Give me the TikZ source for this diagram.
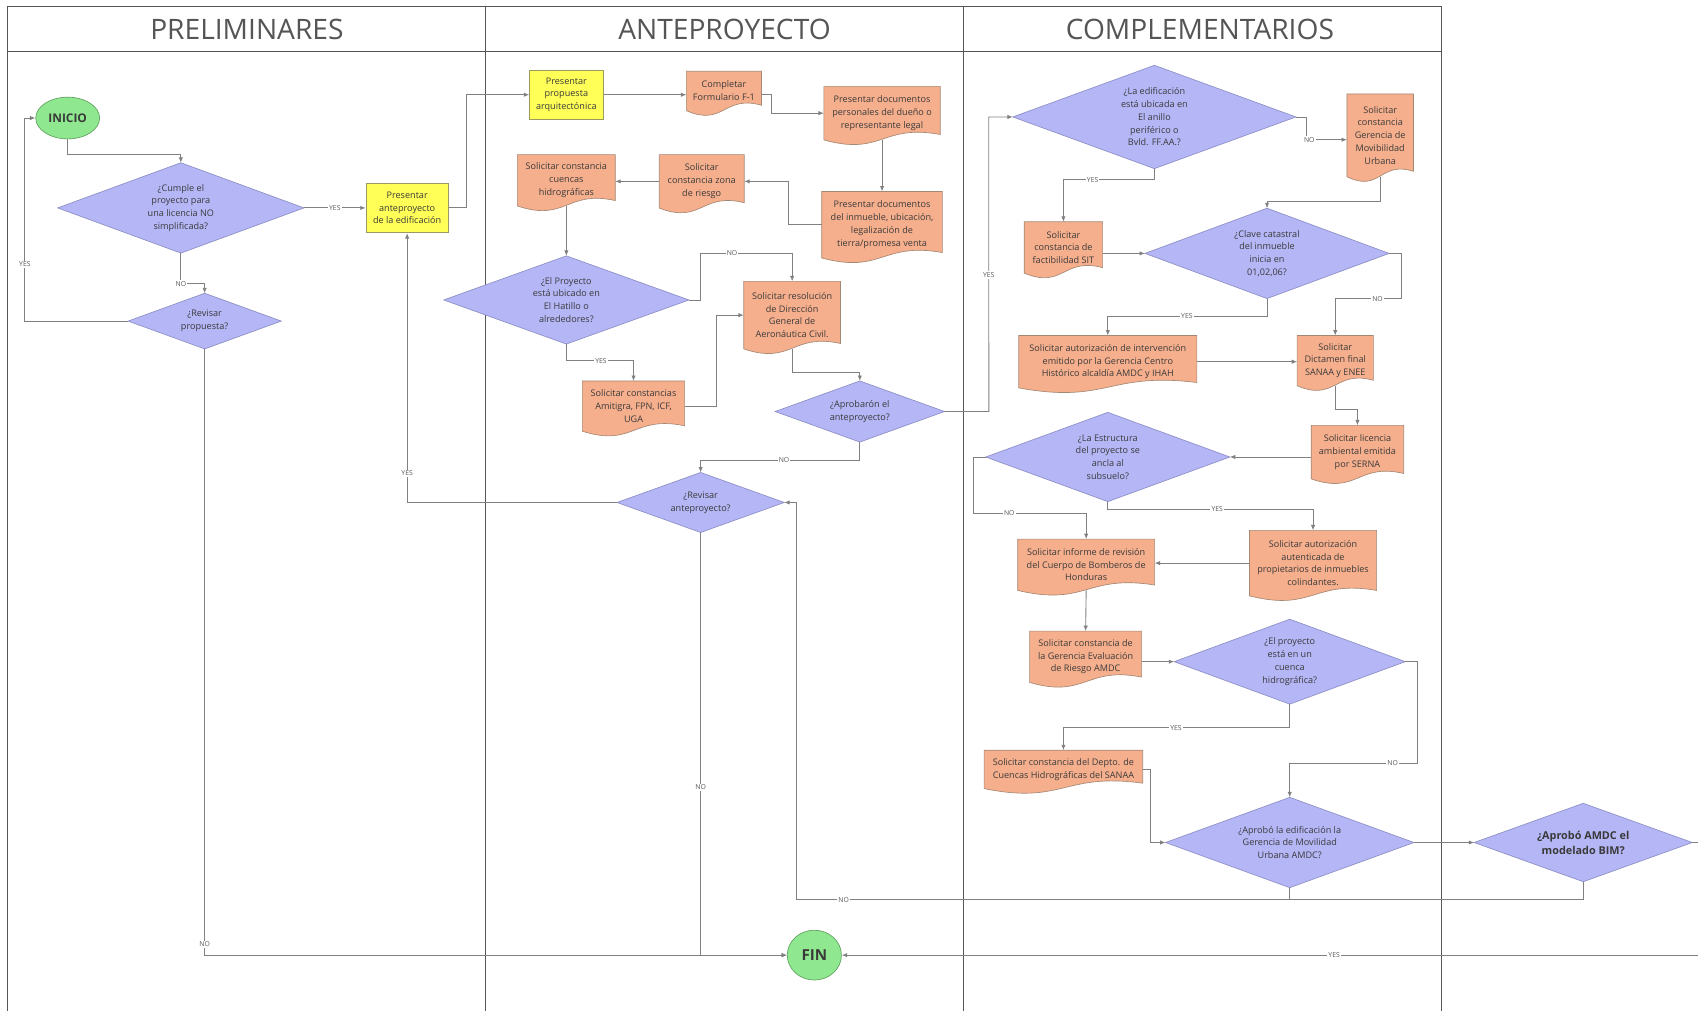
\documentclass[tikz,border=0pt]{standalone}
\usepackage{fontspec}
\setmainfont{Open Sans}
\usetikzlibrary{arrows.meta,calc,shapes.geometric}

\definecolor{lineC}{HTML}{808080}
\definecolor{diaC}{HTML}{B4B6F6}
\definecolor{diaB}{HTML}{8C8EC4}
\definecolor{docC}{HTML}{F6AF8D}
\definecolor{docB}{HTML}{A58874}
\definecolor{yelC}{HTML}{FFFF57}
\definecolor{yelB}{HTML}{9A9A60}
\definecolor{grnC}{HTML}{8FE88F}
\definecolor{grnB}{HTML}{5F9F5F}
\definecolor{txtC}{HTML}{3A3A3A}
\definecolor{poolC}{HTML}{555555}

\pgfdeclarelayer{lanes}
\pgfdeclarelayer{shapes}
\pgfsetlayers{lanes,shapes,main}

\tikzset{
  boxtext/.style={font=\fontsize{8.4}{11.8}\selectfont, text=txtC, align=center, inner sep=0pt},
  decision/.style={boxtext, rectangle},
  docbox/.style={boxtext, rectangle},
  procbox/.style={boxtext, rectangle, draw=yelB, fill=yelC, line width=0.6pt},
  termnode/.style={ellipse, draw=grnB, fill=grnC, line width=0.6pt, inner sep=0pt, text=txtC},
  diafill/.style={fill=diaC, draw=diaB, line width=0.6pt},
  docfill/.style={fill=docC, draw=docB, line width=0.6pt},
  conn/.style={draw=lineC, line width=0.8pt, -{Latex[length=5pt,width=4pt]}},
  joinline/.style={draw=lineC, line width=0.8pt},
  flowtag/.style={font=\fontsize{6.3}{7}\selectfont, text=black!65, fill=white, inner sep=1pt},
  lanetitle/.style={font=\fontsize{26}{30}\selectfont, text=poolC},
  poolline/.style={draw=poolC, line width=0.9pt},
}

% decision: name, centre, width, height, text
\newcommand\decisionnode[5]{\node[decision, minimum width=#3pt, minimum height=#4pt] (#1) at (#2) {#5};}
% document: name, left, right, top, bottom of the straight sides, text
\newcommand\docnode[6]{\node[docbox, minimum width={#3-#2}, minimum height={#5-#4}] (#1) at ({(#2+#3)/2},{(#4+#5)/2}) {#6};}
% outlines drawn behind the texts
\newcommand\diashape[1]{\path[diafill] (#1.north) -- (#1.east) -- (#1.south) -- (#1.west) -- cycle;}
\newcommand\docshape[1]{\path[docfill] (#1.south west) -- (#1.north west) -- (#1.north east) -- ($(#1.south east)+(0,-5)$) .. controls ($(#1.south)+(0,-15)$) and ($(#1.south)+(0,15)$) .. (#1.south west) -- cycle;}

\begin{document}
\begin{tikzpicture}[x=1pt,y=-1pt]
\useasboundingbox (0,0) rectangle (1568,933);

% pool and lanes
\begin{pgfonlayer}{lanes}
\fill[white] (0,0) rectangle (1568,933);
\draw[poolline] (7,960) -- (7,6) -- (1331,6) -- (1331,960);
\draw[poolline] (7,48) -- (1331,48);
\draw[poolline] (448,6) -- (448,960);
\draw[poolline] (890,6) -- (890,960);
\end{pgfonlayer}
\node[lanetitle] (hPre) at (228,27) {PRELIMINARES};
\node[lanetitle] (hAnte) at (669,27) {ANTEPROYECTO};
\node[lanetitle] (hComp) at (1108,27) {COMPLEMENTARIOS};

% ---- Preliminares
\node[termnode, minimum width=59pt, minimum height=38.5pt, font=\bfseries\fontsize{11}{13}\selectfont] (inicio) at (62.5,109) {INICIO};
\decisionnode{d1}{167,192}{227}{83}{¿Cumple el\\proyecto para\\una licencia NO\\simplificada?}
\decisionnode{d2}{189,296.5}{141}{51}{¿Revisar\\propuesta?}
\node[procbox, minimum width=76pt, minimum height=46pt] (p1) at (376,192) {Presentar\\anteproyecto\\de la edificación};

% ---- Anteproyecto
\node[procbox, minimum width=68pt, minimum height=45pt] (prop) at (523,87.5) {Presentar\\propuesta\\arquitectónica};
\docnode{f1}{634}{703}{66}{102}{Completar\\Formulario F-1}
\docnode{pers}{761}{868}{80}{129}{Presentar documentos\\personales del dueño o\\representante legal}
\docnode{inm}{759}{870}{177}{238}{Presentar documentos\\del inmueble, ubicación,\\legalización de\\tierra/promesa venta}
\docnode{zona}{609}{687}{143}{192}{Solicitar\\constancia zona\\de riesgo}
\docnode{cue}{478}{568}{143}{190}{Solicitar constancia\\cuencas\\hidrográficas}
\decisionnode{hat}{523,277}{226}{81}{¿El Proyecto\\está ubicado en\\El Hatillo o\\alrededores?}
\docnode{aero}{687}{776}{260}{322}{Solicitar resolución\\de Dirección\\General de\\Aeronáutica Civil.}
\docnode{ami}{538}{632}{352}{398}{Solicitar constancias\\Amitigra, FPN, ICF,\\UGA}
\decisionnode{apr}{794,380}{156}{56}{¿Aprobarón el\\anteproyecto?}
\decisionnode{rev}{647,464}{154}{55}{¿Revisar\\anteproyecto?}
\node[termnode, minimum width=50pt, minimum height=46pt, font=\bfseries\fontsize{14}{16}\selectfont] (fin) at (752,882) {FIN};

% ---- Complementarios
\decisionnode{edif}{1066,108}{261}{95}{¿La edificación\\está ubicada en\\El anillo\\periférico o\\Bvld. FF.AA.?}
\docnode{mov}{1244}{1305}{87}{163}{Solicitar\\constancia\\Gerencia de\\Movibilidad\\Urbana}
\docnode{sit}{946}{1018}{205}{252}{Solicitar\\constancia de\\factibilidad SIT}
\decisionnode{clave}{1170,234}{225}{83}{¿Clave catastral\\del inmueble\\inicia en\\01,02,06?}
\docnode{int}{941}{1105}{310}{358}{Solicitar autorización de intervención\\emitido por la Gerencia Centro\\Histórico alcaldía AMDC y IHAH}
\docnode{dict}{1198}{1268}{310}{356}{Solicitar\\Dictamen final\\SANAA y ENEE}
\docnode{serna}{1211}{1296}{393}{442}{Solicitar licencia\\ambiental emitida\\por SERNA}
\decisionnode{est}{1023,422}{225}{82}{¿La Estructura\\del proyecto se\\ancla al\\subsuelo?}
\docnode{col}{1154}{1271}{490}{550}{Solicitar autorización\\autenticada de\\propietarios de inmuebles\\colindantes.}
\docnode{bomb}{940}{1066}{498}{545}{Solicitar informe de revisión\\del Cuerpo de Bomberos de\\Honduras}
\docnode{risk}{951}{1054}{583}{630}{Solicitar constancia de\\la Gerencia Evaluación\\de Riesgo AMDC}
\decisionnode{cuenca}{1191,611}{213}{78}{¿El proyecto\\está en un\\cuenca\\hidrográfica?}
\docnode{sanaa}{909}{1055}{693}{728}{Solicitar constancia del Depto. de\\Cuencas Hidrográficas del SANAA}
\decisionnode{aprob}{1191,778}{229}{83}{¿Aprobó la edificación la\\Gerencia de Movilidad\\Urbana AMDC?}
\node[decision, minimum width=201pt, minimum height=72pt, font=\bfseries\fontsize{10}{14}\selectfont] (bim) at (1462,778) {¿Aprobó AMDC el\\modelado BIM?};

% shapes behind the texts
\begin{pgfonlayer}{shapes}
\diashape{d1}\diashape{d2}\diashape{hat}\diashape{apr}\diashape{rev}
\diashape{edif}\diashape{clave}\diashape{est}\diashape{cuenca}\diashape{aprob}\diashape{bim}
\docshape{f1}\docshape{pers}\docshape{inm}\docshape{zona}\docshape{cue}\docshape{aero}\docshape{ami}
\docshape{mov}\docshape{sit}\docshape{int}\docshape{dict}\docshape{serna}\docshape{col}
\docshape{bomb}\docshape{risk}\docshape{sanaa}
\end{pgfonlayer}

% ---- connectors: Preliminares
\draw[conn] (inicio.south) |- (167,143) -- (d1.north);
\draw[conn] (d1.east) -- node[flowtag]{YES} (p1.west);
\draw[conn] (d1.south) -- (167,262) node[flowtag]{NO} -| (d2.north);
\draw[conn] (d2.west) -| (23,244) node[flowtag]{YES} |- (inicio.west);
\draw[conn] (d2.south) -- (189,872) node[flowtag]{NO} |- (fin.west);
\draw[conn] (p1.east) -- ++(16,0) |- (prop.west);

% ---- connectors: Anteproyecto
\draw[conn] (prop.east) -- (prop.east -| f1.west);
\draw[conn] (f1.east |- prop.east) -- ++(9,0) |- (pers.west);
\draw[conn] (pers.south) -- (inm.north);
\draw[conn] (inm.west) -- ++(-31,0) |- (zona.east);
\draw[conn] (zona.west) -- (zona.west -| cue.east);
\draw[conn] (cue.south) -- (hat.north);
\draw[conn] (hat.east) -- ++(11,0) |- (676,234) node[flowtag]{NO} -| (aero.north);
\draw[conn] (hat.south) |- (555,333) node[flowtag]{YES} -| (ami.north);
\draw[conn] (ami.east) -- ++(29,0) |- (aero.west);
\draw[conn] (aero.south) -- ++(0,22) -| (apr.north);
\draw[conn] (apr.east) -- ++(41,0) -- (913,254) node[flowtag]{YES} |- (edif.west);
\draw[conn] (apr.south) |- (724,425) node[flowtag]{NO} -| (rev.north);
\draw[conn] (rev.west) -| (376,437) node[flowtag]{YES} -- (p1.south);
\draw[conn] (rev.south) -- (647,727) node[flowtag]{NO} |- (fin.west);

% ---- connectors: Complementarios
\draw[conn] (edif.east) -- ++(10,0) |- (1209,129) node[flowtag]{NO} -- (mov.west |- 0,129);
\draw[conn] (edif.south) |- (1009,166) node[flowtag]{YES} -| (sit.north);
\draw[conn] (mov.south) |- (1200,186) -| (clave.north);
\draw[conn] (sit.east |- clave.west) -- (clave.west);
\draw[conn] (clave.east) -- ++(11,0) |- (1272,276) node[flowtag]{NO} -| (dict.north);
\draw[conn] (clave.south) |- (1096,292) node[flowtag]{YES} -| (int.north);
\draw[conn] (int.east) -- (int.east -| dict.west);
\draw[conn] (dict.south) -- ++(0,22) -| (serna.north);
\draw[conn] (serna.west |- est.east) -- (est.east);
\draw[conn] (est.west) -- ++(-11,0) |- (932,474) node[flowtag]{NO} -| (bomb.north);
\draw[conn] (est.south) |- (1124,470) node[flowtag]{YES} -| (col.north);
\draw[conn] (col.west) -- (col.west -| bomb.east);
\draw[conn] (bomb.south) -- (risk.north);
\draw[conn] (risk.east |- cuenca.west) -- (cuenca.west);
\draw[conn] (cuenca.east) -- ++(11,0) |- (1286,705) node[flowtag]{NO} -| (aprob.north);
\draw[conn] (cuenca.south) |- (1086,672) node[flowtag]{YES} -| (sanaa.north);
\draw[conn] (sanaa.east) -- ++(7,0) |- (aprob.west);
\draw[conn] (aprob.east) -- (bim.west);
\draw[conn] (aprob.south) |- (779,831) node[flowtag]{NO} -| (735,600) |- (rev.east);
\draw[joinline] (bim.south) |- (aprob.south |- 0,831);
\draw[conn] (bim.east) -- ++(20,0) |- (1232,882) node[flowtag]{YES} -- (fin.east);
\end{tikzpicture}
\end{document}
